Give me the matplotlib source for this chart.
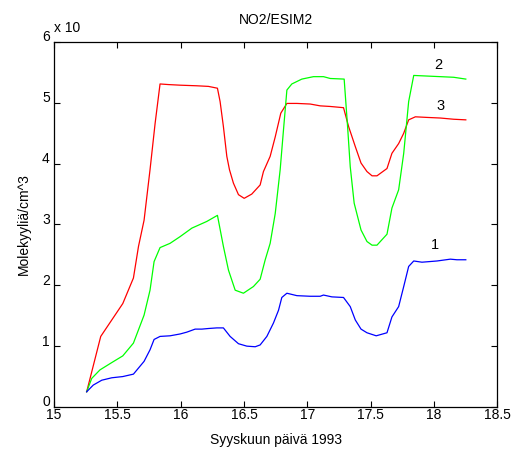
import matplotlib
matplotlib.use("Agg")
import matplotlib.pyplot as plt
import matplotlib.transforms as mtransforms

plt.rcParams['font.family'] = ['Liberation Sans', 'DejaVu Sans']

# Series 3 (red)
x3 = [15.258, 15.369, 15.456, 15.543, 15.627, 15.667, 15.711, 15.758, 15.798, 15.837,
      15.903, 15.995, 16.127, 16.219, 16.29, 16.311, 16.337, 16.364, 16.385, 16.416,
      16.456, 16.501, 16.561, 16.627, 16.653, 16.706, 16.746, 16.79, 16.838, 16.917,
      17.022, 17.101, 17.18, 17.285, 17.325, 17.378, 17.423, 17.47, 17.51, 17.549,
      17.628, 17.667, 17.72, 17.76, 17.799, 17.852, 17.944, 18.049, 18.154, 18.25]
y3 = [0.25, 1.16, 1.43, 1.70, 2.12, 2.64, 3.07, 3.90, 4.66, 5.31,
      5.30, 5.29, 5.28, 5.27, 5.24, 5.02, 4.61, 4.12, 3.90, 3.68,
      3.49, 3.43, 3.50, 3.65, 3.87, 4.12, 4.44, 4.83, 4.99, 4.99,
      4.98, 4.95, 4.94, 4.92, 4.61, 4.28, 4.01, 3.87, 3.80, 3.80,
      3.92, 4.17, 4.33, 4.50, 4.72, 4.77, 4.76, 4.75, 4.73, 4.72]

# Series 2 (green)
x2 = [15.258, 15.298, 15.363, 15.456, 15.543, 15.627, 15.711, 15.758, 15.79, 15.837,
      15.916, 15.995, 16.088, 16.206, 16.29, 16.337, 16.377, 16.43, 16.495, 16.574,
      16.627, 16.667, 16.706, 16.746, 16.785, 16.811, 16.838, 16.877, 16.956, 17.048,
      17.127, 17.18, 17.29, 17.317, 17.338, 17.369, 17.423, 17.47, 17.51, 17.549,
      17.628, 17.667, 17.72, 17.76, 17.799, 17.839, 17.944, 18.049, 18.154, 18.25]
y2 = [0.25, 0.47, 0.61, 0.73, 0.84, 1.05, 1.51, 1.92, 2.39, 2.62,
      2.69, 2.80, 2.94, 3.05, 3.15, 2.64, 2.25, 1.92, 1.87, 1.98,
      2.10, 2.42, 2.69, 3.18, 3.90, 4.55, 5.21, 5.31, 5.39, 5.43,
      5.43, 5.40, 5.39, 4.61, 3.95, 3.35, 2.91, 2.72, 2.66, 2.66,
      2.84, 3.27, 3.57, 4.17, 5.02, 5.45, 5.44, 5.43, 5.42, 5.39]

# Series 1 (blue)
x1 = [15.258, 15.31, 15.377, 15.456, 15.543, 15.627, 15.711, 15.758, 15.79, 15.837,
      15.916, 15.995, 16.048, 16.114, 16.167, 16.219, 16.285, 16.337, 16.39, 16.456,
      16.522, 16.588, 16.627, 16.68, 16.732, 16.772, 16.798, 16.838, 16.917, 17.022,
      17.101, 17.127, 17.193, 17.285, 17.338, 17.378, 17.423, 17.47, 17.543, 17.628,
      17.667, 17.72, 17.76, 17.799, 17.839, 17.904, 18.023, 18.128, 18.18, 18.25]
y1 = [0.25, 0.36, 0.44, 0.48, 0.50, 0.54, 0.75, 0.94, 1.11, 1.16,
      1.17, 1.20, 1.23, 1.28, 1.28, 1.29, 1.30, 1.30, 1.16, 1.04,
      1.00, 0.99, 1.02, 1.16, 1.38, 1.59, 1.80, 1.87, 1.83, 1.82,
      1.82, 1.84, 1.81, 1.80, 1.65, 1.43, 1.28, 1.22, 1.17, 1.22,
      1.48, 1.65, 1.98, 2.31, 2.40, 2.38, 2.40, 2.43, 2.42, 2.42]

xticks = [15, 15.5, 16, 16.5, 17, 17.5, 18, 18.5]
xtick_labels = ['15', '15.5', '16', '16.5', '17', '17.5', '18', '18.5']
yticks = [0, 1, 2, 3, 4, 5, 6]

fig = plt.figure(figsize=(5.18, 4.5), dpi=100)
ax = fig.add_axes([0.1042, 0.0956, 0.8562, 0.8111])

lw = 0.9
ax.plot(x3, y3, color='#ff0000', lw=lw)
ax.plot(x2, y2, color='#00ff00', lw=lw)
ax.plot(x1, y1, color='#0000ff', lw=lw)

ax.set_xlim(15, 18.5)
ax.set_ylim(0, 6)
ax.set_xticks(xticks)
ax.set_xticklabels(xtick_labels)
ax.set_yticks(yticks)
ax.tick_params(direction='in', top=True, right=True, length=4, width=0.8,
               labelsize=10, colors='black')
ax.tick_params(axis='x', pad=1)
ax.tick_params(axis='y', pad=3)
# MATLAB-style: y tick labels sit slightly above their ticks
offset = mtransforms.ScaledTranslation(0, 6 / 100, fig.dpi_scale_trans)
for lab in ax.get_yticklabels():
    lab.set_transform(lab.get_transform() + offset)
for s in ax.spines.values():
    s.set_linewidth(0.9)

ax.text(18.01, 2.55, '1', fontsize=10.5, ha='center', va='bottom')
ax.text(18.03, 5.5, '2', fontsize=10.5, ha='center', va='bottom')
ax.text(18.05, 4.83, '3', fontsize=10.5, ha='center', va='bottom')

ax.set_title('NO2/ESIM2', fontsize=10, pad=13)
ax.set_xlabel('Syyskuun päivä 1993', fontsize=10, labelpad=8)
ax.set_ylabel('Molekyyliä/cm^3', fontsize=10, labelpad=8)
ax.text(0.0, 1.02, 'x 10', transform=ax.transAxes, fontsize=10, ha='left', va='bottom')

fig.savefig('out.png', dpi=100)
